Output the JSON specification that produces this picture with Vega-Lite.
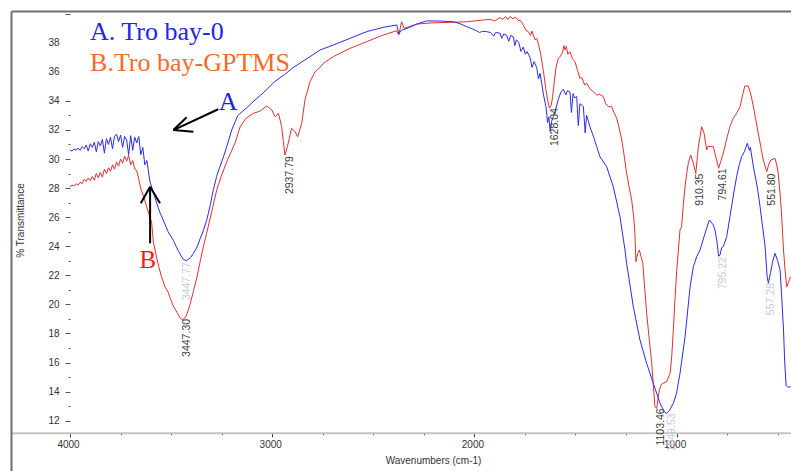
{
  "$schema": "https://vega.github.io/schema/vega-lite/v6.json",
  "autosize": {"type": "none"},
  "padding": {"left": 11, "top": 11, "right": 0, "bottom": 0},
  "width": 780,
  "height": 460,
  "background": "#ffffff",
  "config": {"view": {"stroke": null}},
  "datasets": {
    "spectra": [
      {"w":4000,"t":30.6,"s":"A"},{"w":3990,"t":30.55,"s":"A"},{"w":3980,"t":30.7,"s":"A"},{"w":3970,"t":30.6,"s":"A"},{"w":3960,"t":30.75,"s":"A"},{"w":3950,"t":30.6,"s":"A"},{"w":3940,"t":30.85,"s":"A"},{"w":3930,"t":30.7,"s":"A"},{"w":3920,"t":30.95,"s":"A"},{"w":3910,"t":30.55,"s":"A"},{"w":3900,"t":31.05,"s":"A"},{"w":3890,"t":30.8,"s":"A"},{"w":3880,"t":31.15,"s":"A"},{"w":3870,"t":30.5,"s":"A"},{"w":3860,"t":31.2,"s":"A"},{"w":3850,"t":30.9,"s":"A"},{"w":3840,"t":31.35,"s":"A"},{"w":3830,"t":30.4,"s":"A"},{"w":3820,"t":31.4,"s":"A"},{"w":3810,"t":31.0,"s":"A"},{"w":3800,"t":31.5,"s":"A"},{"w":3790,"t":30.7,"s":"A"},{"w":3780,"t":31.55,"s":"A"},{"w":3770,"t":31.7,"s":"A"},{"w":3760,"t":31.2,"s":"A"},{"w":3750,"t":31.65,"s":"A"},{"w":3740,"t":30.8,"s":"A"},{"w":3730,"t":31.55,"s":"A"},{"w":3720,"t":31.3,"s":"A"},{"w":3710,"t":30.3,"s":"A"},{"w":3700,"t":31.6,"s":"A"},{"w":3690,"t":30.6,"s":"A"},{"w":3680,"t":31.5,"s":"A"},{"w":3670,"t":31.1,"s":"A"},{"w":3660,"t":31.55,"s":"A"},{"w":3650,"t":30.3,"s":"A"},{"w":3640,"t":30.8,"s":"A"},{"w":3630,"t":29.6,"s":"A"},{"w":3620,"t":29.9,"s":"A"},{"w":3610,"t":28.9,"s":"A"},{"w":3604,"t":28.4,"s":"A"},{"w":3590,"t":27.8,"s":"A"},{"w":3571,"t":26.95,"s":"A"},{"w":3555,"t":26.3,"s":"A"},{"w":3539,"t":25.8,"s":"A"},{"w":3515,"t":25.0,"s":"A"},{"w":3489,"t":24.4,"s":"A"},{"w":3465,"t":23.7,"s":"A"},{"w":3440,"t":23.1,"s":"A"},{"w":3425,"t":23.0,"s":"A"},{"w":3405,"t":23.2,"s":"A"},{"w":3390,"t":23.5,"s":"A"},{"w":3370,"t":24.0,"s":"A"},{"w":3357,"t":24.5,"s":"A"},{"w":3340,"t":25.1,"s":"A"},{"w":3324,"t":25.8,"s":"A"},{"w":3307,"t":26.8,"s":"A"},{"w":3291,"t":27.9,"s":"A"},{"w":3275,"t":28.8,"s":"A"},{"w":3258,"t":29.5,"s":"A"},{"w":3240,"t":30.2,"s":"A"},{"w":3225,"t":30.85,"s":"A"},{"w":3200,"t":32.0,"s":"A"},{"w":3170,"t":33.0,"s":"A"},{"w":3120,"t":33.6,"s":"A"},{"w":3090,"t":34.0,"s":"A"},{"w":3040,"t":34.6,"s":"A"},{"w":2990,"t":35.3,"s":"A"},{"w":2940,"t":35.8,"s":"A"},{"w":2900,"t":36.25,"s":"A"},{"w":2862,"t":36.6,"s":"A"},{"w":2813,"t":37.04,"s":"A"},{"w":2763,"t":37.5,"s":"A"},{"w":2698,"t":37.84,"s":"A"},{"w":2615,"t":38.3,"s":"A"},{"w":2533,"t":38.76,"s":"A"},{"w":2450,"t":39.06,"s":"A"},{"w":2384,"t":39.22,"s":"A"},{"w":2374,"t":38.6,"s":"A"},{"w":2362,"t":38.85,"s":"A"},{"w":2320,"t":39.05,"s":"A"},{"w":2285,"t":39.28,"s":"A"},{"w":2236,"t":39.5,"s":"A"},{"w":2170,"t":39.49,"s":"A"},{"w":2104,"t":39.44,"s":"A"},{"w":2070,"t":39.3,"s":"A"},{"w":2038,"t":39.1,"s":"A"},{"w":2010,"t":38.95,"s":"A"},{"w":1989,"t":38.82,"s":"A"},{"w":1975,"t":38.7,"s":"A"},{"w":1960,"t":38.78,"s":"A"},{"w":1939,"t":38.76,"s":"A"},{"w":1920,"t":38.7,"s":"A"},{"w":1905,"t":38.45,"s":"A"},{"w":1895,"t":38.7,"s":"A"},{"w":1873,"t":38.65,"s":"A"},{"w":1865,"t":38.3,"s":"A"},{"w":1855,"t":38.6,"s":"A"},{"w":1840,"t":38.5,"s":"A"},{"w":1830,"t":38.1,"s":"A"},{"w":1820,"t":38.5,"s":"A"},{"w":1807,"t":38.4,"s":"A"},{"w":1800,"t":37.8,"s":"A"},{"w":1792,"t":38.2,"s":"A"},{"w":1780,"t":38.0,"s":"A"},{"w":1770,"t":37.4,"s":"A"},{"w":1758,"t":37.7,"s":"A"},{"w":1748,"t":37.2,"s":"A"},{"w":1740,"t":37.4,"s":"A"},{"w":1725,"t":37.0,"s":"A"},{"w":1715,"t":36.3,"s":"A"},{"w":1705,"t":36.7,"s":"A"},{"w":1692,"t":36.3,"s":"A"},{"w":1683,"t":35.5,"s":"A"},{"w":1675,"t":35.9,"s":"A"},{"w":1667,"t":35.2,"s":"A"},{"w":1658,"t":34.4,"s":"A"},{"w":1646,"t":33.6,"s":"A"},{"w":1638,"t":32.5,"s":"A"},{"w":1632,"t":32.9,"s":"A"},{"w":1625,"t":31.9,"s":"A"},{"w":1618,"t":32.6,"s":"A"},{"w":1610,"t":32.9,"s":"A"},{"w":1598,"t":33.4,"s":"A"},{"w":1585,"t":34.1,"s":"A"},{"w":1572,"t":34.6,"s":"A"},{"w":1560,"t":34.8,"s":"A"},{"w":1548,"t":34.4,"s":"A"},{"w":1540,"t":34.7,"s":"A"},{"w":1527,"t":34.6,"s":"A"},{"w":1520,"t":33.2,"s":"A"},{"w":1512,"t":34.5,"s":"A"},{"w":1505,"t":34.2,"s":"A"},{"w":1494,"t":34.3,"s":"A"},{"w":1486,"t":32.3,"s":"A"},{"w":1478,"t":33.8,"s":"A"},{"w":1468,"t":33.7,"s":"A"},{"w":1461,"t":33.6,"s":"A"},{"w":1452,"t":31.8,"s":"A"},{"w":1445,"t":33.0,"s":"A"},{"w":1436,"t":32.6,"s":"A"},{"w":1428,"t":32.2,"s":"A"},{"w":1410,"t":31.5,"s":"A"},{"w":1395,"t":30.85,"s":"A"},{"w":1379,"t":30.16,"s":"A"},{"w":1346,"t":29.47,"s":"A"},{"w":1313,"t":28.1,"s":"A"},{"w":1280,"t":26.03,"s":"A"},{"w":1255,"t":23.74,"s":"A"},{"w":1247,"t":22.83,"s":"A"},{"w":1214,"t":19.84,"s":"A"},{"w":1181,"t":17.55,"s":"A"},{"w":1148,"t":15.95,"s":"A"},{"w":1115,"t":14.57,"s":"A"},{"w":1082,"t":13.2,"s":"A"},{"w":1060,"t":12.6,"s":"A"},{"w":1049,"t":12.5,"s":"A"},{"w":1035,"t":12.7,"s":"A"},{"w":1016,"t":13.2,"s":"A"},{"w":1000,"t":13.9,"s":"A"},{"w":983,"t":15.26,"s":"A"},{"w":958,"t":17.78,"s":"A"},{"w":933,"t":21.22,"s":"A"},{"w":917,"t":22.59,"s":"A"},{"w":900,"t":23.3,"s":"A"},{"w":884,"t":23.74,"s":"A"},{"w":859,"t":24.89,"s":"A"},{"w":838,"t":25.8,"s":"A"},{"w":820,"t":25.5,"s":"A"},{"w":810,"t":25.12,"s":"A"},{"w":800,"t":24.3,"s":"A"},{"w":792,"t":23.3,"s":"A"},{"w":785,"t":23.4,"s":"A"},{"w":777,"t":23.9,"s":"A"},{"w":769,"t":23.97,"s":"A"},{"w":752,"t":24.66,"s":"A"},{"w":736,"t":26.03,"s":"A"},{"w":718,"t":27.6,"s":"A"},{"w":703,"t":28.78,"s":"A"},{"w":690,"t":29.6,"s":"A"},{"w":678,"t":30.16,"s":"A"},{"w":665,"t":30.5,"s":"A"},{"w":650,"t":31.08,"s":"A"},{"w":640,"t":30.6,"s":"A"},{"w":635,"t":30.8,"s":"A"},{"w":620,"t":29.47,"s":"A"},{"w":600,"t":28.0,"s":"A"},{"w":587,"t":26.72,"s":"A"},{"w":575,"t":25.4,"s":"A"},{"w":562,"t":23.97,"s":"A"},{"w":552,"t":21.9,"s":"A"},{"w":546,"t":21.45,"s":"A"},{"w":535,"t":22.2,"s":"A"},{"w":524,"t":23.0,"s":"A"},{"w":513,"t":23.51,"s":"A"},{"w":500,"t":23.0,"s":"A"},{"w":488,"t":22.37,"s":"A"},{"w":480,"t":20.53,"s":"A"},{"w":471,"t":18.24,"s":"A"},{"w":465,"t":16.0,"s":"A"},{"w":458,"t":14.4,"s":"A"},{"w":452,"t":14.34,"s":"A"},{"w":445,"t":14.3,"s":"A"},{"w":436,"t":14.35,"s":"A"},

      {"w":4000,"t":28.1,"s":"B"},{"w":3990,"t":28.2,"s":"B"},{"w":3980,"t":28.15,"s":"B"},{"w":3970,"t":28.3,"s":"B"},{"w":3960,"t":28.2,"s":"B"},{"w":3950,"t":28.4,"s":"B"},{"w":3940,"t":28.3,"s":"B"},{"w":3930,"t":28.6,"s":"B"},{"w":3920,"t":28.45,"s":"B"},{"w":3910,"t":28.7,"s":"B"},{"w":3900,"t":28.5,"s":"B"},{"w":3890,"t":28.8,"s":"B"},{"w":3880,"t":28.55,"s":"B"},{"w":3870,"t":29.0,"s":"B"},{"w":3860,"t":28.7,"s":"B"},{"w":3850,"t":29.1,"s":"B"},{"w":3840,"t":28.75,"s":"B"},{"w":3830,"t":29.3,"s":"B"},{"w":3820,"t":29.0,"s":"B"},{"w":3810,"t":29.4,"s":"B"},{"w":3800,"t":29.15,"s":"B"},{"w":3790,"t":29.6,"s":"B"},{"w":3780,"t":29.3,"s":"B"},{"w":3770,"t":29.8,"s":"B"},{"w":3760,"t":29.5,"s":"B"},{"w":3750,"t":30.0,"s":"B"},{"w":3740,"t":29.7,"s":"B"},{"w":3730,"t":30.2,"s":"B"},{"w":3720,"t":29.85,"s":"B"},{"w":3710,"t":30.25,"s":"B"},{"w":3700,"t":29.6,"s":"B"},{"w":3690,"t":29.9,"s":"B"},{"w":3680,"t":29.3,"s":"B"},{"w":3670,"t":29.2,"s":"B"},{"w":3660,"t":28.6,"s":"B"},{"w":3649,"t":27.9,"s":"B"},{"w":3635,"t":27.4,"s":"B"},{"w":3621,"t":26.7,"s":"B"},{"w":3605,"t":26.0,"s":"B"},{"w":3596,"t":25.6,"s":"B"},{"w":3588,"t":24.3,"s":"B"},{"w":3570,"t":23.1,"s":"B"},{"w":3550,"t":22.0,"s":"B"},{"w":3530,"t":21.2,"s":"B"},{"w":3515,"t":20.85,"s":"B"},{"w":3490,"t":19.9,"s":"B"},{"w":3471,"t":19.45,"s":"B"},{"w":3455,"t":19.05,"s":"B"},{"w":3441,"t":18.93,"s":"B"},{"w":3425,"t":19.2,"s":"B"},{"w":3407,"t":19.96,"s":"B"},{"w":3390,"t":20.9,"s":"B"},{"w":3372,"t":21.9,"s":"B"},{"w":3357,"t":22.9,"s":"B"},{"w":3340,"t":24.0,"s":"B"},{"w":3324,"t":24.9,"s":"B"},{"w":3299,"t":26.4,"s":"B"},{"w":3274,"t":27.9,"s":"B"},{"w":3250,"t":28.9,"s":"B"},{"w":3225,"t":29.8,"s":"B"},{"w":3200,"t":30.6,"s":"B"},{"w":3184,"t":31.1,"s":"B"},{"w":3159,"t":32.2,"s":"B"},{"w":3130,"t":32.8,"s":"B"},{"w":3093,"t":33.14,"s":"B"},{"w":3060,"t":33.3,"s":"B"},{"w":3027,"t":33.65,"s":"B"},{"w":3002,"t":33.37,"s":"B"},{"w":2986,"t":32.9,"s":"B"},{"w":2969,"t":33.14,"s":"B"},{"w":2953,"t":32.22,"s":"B"},{"w":2945,"t":31.2,"s":"B"},{"w":2937,"t":30.27,"s":"B"},{"w":2925,"t":30.85,"s":"B"},{"w":2904,"t":32.11,"s":"B"},{"w":2887,"t":31.88,"s":"B"},{"w":2874,"t":31.53,"s":"B"},{"w":2854,"t":32.45,"s":"B"},{"w":2838,"t":34.06,"s":"B"},{"w":2813,"t":35.32,"s":"B"},{"w":2788,"t":36.0,"s":"B"},{"w":2763,"t":36.3,"s":"B"},{"w":2747,"t":36.58,"s":"B"},{"w":2698,"t":37.04,"s":"B"},{"w":2615,"t":37.61,"s":"B"},{"w":2533,"t":38.07,"s":"B"},{"w":2450,"t":38.53,"s":"B"},{"w":2384,"t":38.82,"s":"B"},{"w":2374,"t":38.53,"s":"B"},{"w":2360,"t":39.44,"s":"B"},{"w":2348,"t":38.99,"s":"B"},{"w":2285,"t":39.28,"s":"B"},{"w":2203,"t":39.37,"s":"B"},{"w":2121,"t":39.4,"s":"B"},{"w":2038,"t":39.44,"s":"B"},{"w":1956,"t":39.56,"s":"B"},{"w":1920,"t":39.6,"s":"B"},{"w":1900,"t":39.5,"s":"B"},{"w":1873,"t":39.72,"s":"B"},{"w":1860,"t":39.6,"s":"B"},{"w":1845,"t":39.8,"s":"B"},{"w":1835,"t":39.6,"s":"B"},{"w":1824,"t":39.8,"s":"B"},{"w":1810,"t":39.65,"s":"B"},{"w":1798,"t":39.75,"s":"B"},{"w":1783,"t":39.55,"s":"B"},{"w":1770,"t":39.5,"s":"B"},{"w":1758,"t":39.2,"s":"B"},{"w":1745,"t":38.85,"s":"B"},{"w":1733,"t":38.76,"s":"B"},{"w":1722,"t":38.5,"s":"B"},{"w":1715,"t":38.8,"s":"B"},{"w":1709,"t":38.55,"s":"B"},{"w":1700,"t":38.2,"s":"B"},{"w":1692,"t":38.3,"s":"B"},{"w":1684,"t":37.96,"s":"B"},{"w":1672,"t":37.2,"s":"B"},{"w":1662,"t":36.35,"s":"B"},{"w":1653,"t":35.5,"s":"B"},{"w":1646,"t":34.75,"s":"B"},{"w":1637,"t":34.0,"s":"B"},{"w":1629,"t":33.49,"s":"B"},{"w":1620,"t":33.7,"s":"B"},{"w":1613,"t":34.28,"s":"B"},{"w":1605,"t":35.3,"s":"B"},{"w":1596,"t":36.35,"s":"B"},{"w":1585,"t":36.9,"s":"B"},{"w":1576,"t":37.04,"s":"B"},{"w":1565,"t":37.3,"s":"B"},{"w":1557,"t":37.8,"s":"B"},{"w":1552,"t":37.5,"s":"B"},{"w":1545,"t":37.75,"s":"B"},{"w":1538,"t":37.2,"s":"B"},{"w":1527,"t":37.38,"s":"B"},{"w":1515,"t":36.9,"s":"B"},{"w":1502,"t":36.69,"s":"B"},{"w":1490,"t":36.1,"s":"B"},{"w":1478,"t":35.55,"s":"B"},{"w":1468,"t":35.6,"s":"B"},{"w":1455,"t":35.1,"s":"B"},{"w":1444,"t":35.2,"s":"B"},{"w":1430,"t":34.85,"s":"B"},{"w":1412,"t":34.63,"s":"B"},{"w":1395,"t":34.4,"s":"B"},{"w":1380,"t":34.45,"s":"B"},{"w":1362,"t":34.28,"s":"B"},{"w":1350,"t":33.8,"s":"B"},{"w":1338,"t":33.6,"s":"B"},{"w":1321,"t":33.6,"s":"B"},{"w":1310,"t":33.2,"s":"B"},{"w":1296,"t":32.8,"s":"B"},{"w":1285,"t":32.2,"s":"B"},{"w":1271,"t":31.31,"s":"B"},{"w":1260,"t":30.3,"s":"B"},{"w":1247,"t":29.02,"s":"B"},{"w":1235,"t":28.1,"s":"B"},{"w":1222,"t":27.18,"s":"B"},{"w":1212,"t":26.0,"s":"B"},{"w":1206,"t":24.89,"s":"B"},{"w":1201,"t":22.94,"s":"B"},{"w":1192,"t":23.5,"s":"B"},{"w":1184,"t":23.74,"s":"B"},{"w":1176,"t":23.3,"s":"B"},{"w":1167,"t":22.83,"s":"B"},{"w":1158,"t":21.2,"s":"B"},{"w":1148,"t":19.39,"s":"B"},{"w":1135,"t":17.6,"s":"B"},{"w":1123,"t":15.95,"s":"B"},{"w":1114,"t":14.3,"s":"B"},{"w":1107,"t":12.96,"s":"B"},{"w":1098,"t":12.85,"s":"B"},{"w":1092,"t":13.5,"s":"B"},{"w":1085,"t":14.11,"s":"B"},{"w":1075,"t":14.5,"s":"B"},{"w":1066,"t":14.57,"s":"B"},{"w":1049,"t":14.68,"s":"B"},{"w":1040,"t":15.0,"s":"B"},{"w":1032,"t":15.26,"s":"B"},{"w":1024,"t":16.4,"s":"B"},{"w":1016,"t":18.24,"s":"B"},{"w":1008,"t":20.3,"s":"B"},{"w":999,"t":22.37,"s":"B"},{"w":983,"t":25.12,"s":"B"},{"w":975,"t":25.34,"s":"B"},{"w":967,"t":26.8,"s":"B"},{"w":958,"t":28.1,"s":"B"},{"w":950,"t":29.0,"s":"B"},{"w":942,"t":29.7,"s":"B"},{"w":930,"t":30.27,"s":"B"},{"w":917,"t":29.7,"s":"B"},{"w":905,"t":29.02,"s":"B"},{"w":892,"t":30.85,"s":"B"},{"w":876,"t":32.22,"s":"B"},{"w":864,"t":31.77,"s":"B"},{"w":851,"t":30.62,"s":"B"},{"w":843,"t":30.9,"s":"B"},{"w":835,"t":30.85,"s":"B"},{"w":818,"t":30.85,"s":"B"},{"w":802,"t":29.93,"s":"B"},{"w":792,"t":29.36,"s":"B"},{"w":780,"t":29.9,"s":"B"},{"w":769,"t":30.39,"s":"B"},{"w":750,"t":31.5,"s":"B"},{"w":736,"t":32.22,"s":"B"},{"w":720,"t":32.8,"s":"B"},{"w":703,"t":33.14,"s":"B"},{"w":686,"t":33.6,"s":"B"},{"w":672,"t":34.5,"s":"B"},{"w":662,"t":35.02,"s":"B"},{"w":645,"t":35.02,"s":"B"},{"w":632,"t":34.4,"s":"B"},{"w":620,"t":33.6,"s":"B"},{"w":608,"t":32.7,"s":"B"},{"w":596,"t":31.77,"s":"B"},{"w":583,"t":30.8,"s":"B"},{"w":571,"t":29.93,"s":"B"},{"w":554,"t":29.13,"s":"B"},{"w":545,"t":29.6,"s":"B"},{"w":534,"t":29.93,"s":"B"},{"w":513,"t":30.05,"s":"B"},{"w":505,"t":29.6,"s":"B"},{"w":497,"t":29.02,"s":"B"},{"w":488,"t":27.6,"s":"B"},{"w":480,"t":26.03,"s":"B"},{"w":471,"t":23.74,"s":"B"},{"w":463,"t":22.3,"s":"B"},{"w":455,"t":21.2,"s":"B"},{"w":447,"t":21.5,"s":"B"},{"w":436,"t":21.9,"s":"B"}
    ],
    "peaks": [
      {"label":"3447.30","w":3447.3,"t":19.0,"tone":"dark"},
      {"label":"2937.79","w":2937.79,"t":30.2,"tone":"dark"},
      {"label":"1628.04","w":1628.04,"t":33.5,"tone":"dark"},
      {"label":"1103.46","w":1103.46,"t":12.85,"tone":"dark"},
      {"label":"910.35","w":910.35,"t":29.0,"tone":"dark"},
      {"label":"794.61","w":794.61,"t":29.36,"tone":"dark"},
      {"label":"551.80","w":551.8,"t":29.0,"tone":"dark"},
      {"label":"3447.77","w":3447.77,"t":22.9,"tone":"faint"},
      {"label":"1049.53","w":1049.53,"t":12.5,"tone":"faint"},
      {"label":"795.22","w":795.22,"t":23.25,"tone":"faint"},
      {"label":"557.29","w":557.29,"t":21.47,"tone":"faint"}
    ],
    "arrows": [
      {"w":3267,"t":33.42,"w2":3489,"t2":31.99},
      {"w":3423,"t":32.87,"w2":3489,"t2":31.99},
      {"w":3390,"t":31.88,"w2":3489,"t2":31.99},
      {"w":3604,"t":24.2,"w2":3604,"t2":28.09},
      {"w":3650,"t":26.95,"w2":3604,"t2":28.09},
      {"w":3555,"t":26.95,"w2":3604,"t2":28.09}
    ]
  },
  "resolve": {"axis": {"x": "independent", "y": "independent"}},
  "layer": [
    {
      "data": {"name": "spectra"},
      "transform": [{"filter": "datum.s === 'B'"}],
      "mark": {"type": "line", "color": "#e03030", "strokeWidth": 1, "interpolate": "linear"},
      "encoding": {
        "x": {"field": "w", "type": "quantitative",
              "scale": {"domain": [4292, 434], "nice": false, "zero": false},
              "axis": {"orient": "top", "labels": false, "ticks": false, "grid": false, "title": null, "domainColor": "#6e6e6e", "domainWidth": 2}},
        "y": {"field": "t", "type": "quantitative",
              "scale": {"domain": [8.54, 40.18], "nice": false, "zero": false},
              "axis": {"orient": "left", "labels": false, "ticks": false, "grid": false, "title": null, "domainColor": "#6e6e6e", "domainWidth": 2}},
        "order": {"field": "w", "sort": "descending"}
      }
    },
    {
      "data": {"name": "spectra"},
      "transform": [{"filter": "datum.s === 'A'"}],
      "mark": {"type": "line", "color": "#2a2af5", "strokeWidth": 1, "interpolate": "linear"},
      "encoding": {
        "x": {"field": "w", "type": "quantitative",
              "scale": {"domain": [4292, 434], "nice": false, "zero": false},
              "axis": {"orient": "bottom", "offset": -38.3, "grid": false,
                       "values": [4000,3750,3500,3250,3000,2750,2500,2250,2000,1750,1500,1250,1000,750,500],
                       "format": "d",
                       "labelExpr": "datum.value % 1000 === 0 ? datum.label : ''",
                       "tickSize": {"condition": {"test": "datum.value % 1000 === 0", "value": 4}, "value": 2},
                       "tickColor": "#333333", "domainColor": "#c4c4c4", "domainWidth": 2,
                       "labelFont": "Liberation Sans", "labelFontSize": 10, "labelColor": "#333333",
                       "labelPadding": 3, "labelOffset": -2, "labelFlush": false, "labelOverlap": false,
                       "title": "Wavenumbers (cm-1)", "titleFont": "Liberation Sans", "titleFontSize": 10,
                       "titleFontWeight": "normal", "titleColor": "#333333",
                       "titleX": 422, "titleY": 28, "titleBaseline": "middle", "titleAlign": "center"}},
        "y": {"field": "t", "type": "quantitative",
              "scale": {"domain": [8.54, 40.18], "nice": false, "zero": false},
              "axis": {"orient": "left", "offset": -59, "grid": false, "domain": false,
                       "values": [12,12.5,13,13.5,14,14.5,15,15.5,16,16.5,17,17.5,18,18.5,19,19.5,20,20.5,21,21.5,22,22.5,23,23.5,24,24.5,25,25.5,26,26.5,27,27.5,28,28.5,29,29.5,30,30.5,31,31.5,32,32.5,33,33.5,34,34.5,35,35.5,36,36.5,37,37.5,38,38.5,39,39.5,40],
                       "format": "d",
                       "labelExpr": "(datum.value % 2 === 0 && datum.value <= 38) ? datum.label : ''",
                       "tickSize": {"condition": {"test": "datum.value % 2 === 0", "value": 5}, "value": 2},
                       "tickOpacity": {"condition": {"test": "datum.value > 34.6 && datum.value < 39.9", "value": 0}, "value": 1},
                       "tickColor": "#555555",
                       "labelFont": "Liberation Sans", "labelFontSize": 10, "labelColor": "#333333",
                       "labelPadding": 6, "labelFlush": false, "labelOverlap": false,
                       "title": "% Transmittance", "titleFont": "Liberation Sans", "titleFontSize": 10,
                       "titleFontWeight": "normal", "titleColor": "#333333",
                       "titleX": -49.5, "titleY": 209, "titleAngle": 270, "titleBaseline": "middle", "titleAlign": "center"}},
        "order": {"field": "w", "sort": "descending"}
      }
    },
    {
      "data": {"name": "peaks"},
      "mark": {"type": "text", "angle": 270, "align": "right", "baseline": "top", "font": "Liberation Sans", "fontSize": 10.5},
      "encoding": {
        "x": {"field": "w", "type": "quantitative", "axis": null},
        "y": {"field": "t", "type": "quantitative", "axis": null},
        "text": {"field": "label"},
        "color": {"field": "tone", "type": "nominal", "legend": null,
                  "scale": {"domain": ["dark", "faint"], "range": ["#3a3a3a", "#c5cad6"]}}
      }
    },
    {
      "data": {"name": "arrows"},
      "mark": {"type": "rule", "color": "#000000", "strokeWidth": 2},
      "encoding": {
        "x": {"field": "w", "type": "quantitative", "axis": null},
        "y": {"field": "t", "type": "quantitative", "axis": null},
        "x2": {"field": "w2"},
        "y2": {"field": "t2"}
      }
    },
    {
      "data": {"values": [{}]},
      "mark": {"type": "text", "text": "A. Tro bay-0", "font": "Liberation Serif", "fontSize": 26, "color": "#2323e8", "align": "left", "baseline": "alphabetic"},
      "encoding": {
        "x": {"datum": 3901, "type": "quantitative", "axis": null},
        "y": {"datum": 38.18, "type": "quantitative", "axis": null}
      }
    },
    {
      "data": {"values": [{}]},
      "mark": {"type": "text", "text": "B.Tro bay-GPTMS", "font": "Liberation Serif", "fontSize": 26, "color": "#f26b2b", "align": "left", "baseline": "alphabetic"},
      "encoding": {
        "x": {"datum": 3901, "type": "quantitative", "axis": null},
        "y": {"datum": 36.07, "type": "quantitative", "axis": null}
      }
    },
    {
      "data": {"values": [{}]},
      "mark": {"type": "text", "text": "A", "font": "Liberation Serif", "fontSize": 26, "color": "#2323e8", "align": "left", "baseline": "alphabetic"},
      "encoding": {
        "x": {"datum": 3265, "type": "quantitative", "axis": null},
        "y": {"datum": 33.37, "type": "quantitative", "axis": null}
      }
    },
    {
      "data": {"values": [{}]},
      "mark": {"type": "text", "text": "B", "font": "Liberation Serif", "fontSize": 25, "color": "#ff1a1a", "align": "left", "baseline": "alphabetic"},
      "encoding": {
        "x": {"datum": 3657, "type": "quantitative", "axis": null},
        "y": {"datum": 22.48, "type": "quantitative", "axis": null}
      }
    }
  ]
}
